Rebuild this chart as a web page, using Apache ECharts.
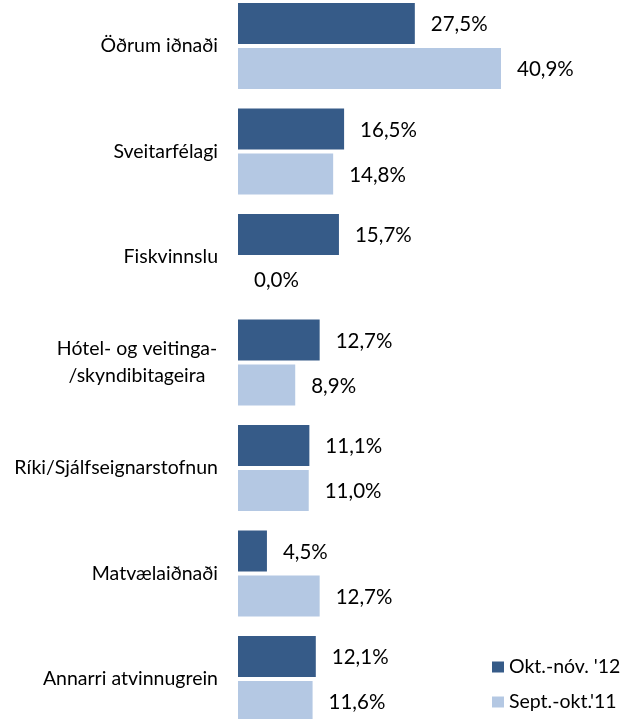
<!DOCTYPE html>
<html>
<head>
<meta charset="utf-8">
<script src="https://cdn.jsdelivr.net/npm/echarts@6/dist/echarts.min.js"></script>
<style>
    html, body { margin: 0; padding: 0; background: #fff; }
    #chart { width: 626px; height: 719px; }
</style>
</head>
<body>
<div id="chart"></div>
<script>
(function () {

    'use strict';

    // 类别（从上到下）
    var categories = [
        'Öðrum iðnaði',
        'Sveitarfélagi',
        'Fiskvinnslu',
        'Hótel- og veitinga-\n/skyndibitageira',
        'Ríki/Sjálfseignarstofnun',
        'Matvælaiðnaði',
        'Annarri atvinnugrein'
    ];

    var seriesNames = ['Okt.-nóv. \'12', 'Sept.-okt.\'11'];

    var okt12 = [27.5, 16.5, 15.7, 12.7, 11.1, 4.5, 12.1];
    var sept11 = [40.9, 14.8, 0.0, 8.9, 11.0, 12.7, 11.6];

    var fontFamily = 'Lato, "Open Sans", sans-serif';

    function pct(p) {
        return p.value.toFixed(1).replace('.', ',') + '%';
    }

    // 多行类别名居中对齐
    function catLabel(value) {
        if (value.indexOf('\n') < 0) return value;
        return value.split('\n').map(function (line) {
            return '{c|' + line + '}';
        }).join('\n');
    }

    var label = {
        show: true,
        position: 'right',
        distance: 16,
        offset: [0, 1],
        formatter: pct,
        color: '#000',
        fontSize: 20.5,
        fontFamily: fontFamily
    };

    var myChart = echarts.init(document.getElementById('chart'));

    var option = {
        animation: false,
        grid: {
            left: 238,
            width: 321.5,
            top: -6.75,
            height: 738.5,
            outerBoundsMode: 'none',
            containLabel: false
        },
        legend: {
            orient: 'vertical',
            left: 492,
            top: 657,
            padding: 0,
            itemWidth: 12,
            itemHeight: 11,
            itemGap: 15,
            icon: 'rect',
            textStyle: { fontSize: 19.5, fontFamily: fontFamily, color: '#000' },
            data: seriesNames
        },
        xAxis: {
            type: 'value',
            min: 0,
            max: 50,
            show: false
        },
        yAxis: {
            type: 'category',
            inverse: true,
            data: categories,
            axisLine: { show: false },
            axisTick: { show: false },
            axisLabel: {
                margin: 20,
                color: '#000',
                fontSize: 19.5,
                fontFamily: fontFamily,
                formatter: catLabel,
                rich: {
                    c: {
                        width: 162,
                        align: 'center',
                        lineHeight: 27,
                        fontSize: 19.5,
                        fontFamily: fontFamily,
                        color: '#000'
                    }
                }
            }
        },
        series: [{
            name: seriesNames[0],
            type: 'bar',
            data: okt12,
            barWidth: 41,
            barGap: '10%',
            itemStyle: { color: '#365b88' },
            label: label
        }, {
            name: seriesNames[1],
            type: 'bar',
            data: sept11,
            barWidth: 41,
            itemStyle: { color: '#b4c8e3' },
            label: label
        }]
    };

    myChart.setOption(option);
})();
</script>
</body>
</html>
